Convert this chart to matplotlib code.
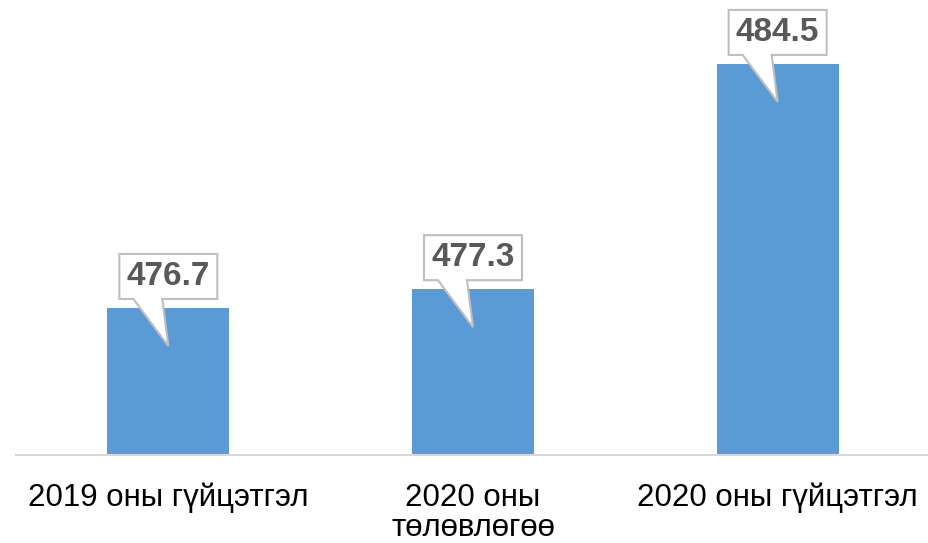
import matplotlib.pyplot as plt
from matplotlib.patches import Polygon

plt.rcParams['font.family'] = ['Liberation Sans', 'DejaVu Sans']

categories = ["2019 оны гүйцэтгэл", "2020 оны\nтөлөвлөгөө", "2020 оны гүйцэтгэл"]
values = [476.7, 477.3, 484.5]
labels = ["476.7", "477.3", "484.5"]

fig = plt.figure(figsize=(9.29, 5.43), dpi=100)
ax = fig.add_axes([16 / 929, 88 / 543, 914 / 929, 438 / 543])

x = range(len(values))
ax.bar(x, values, width=0.4, color="#5B9BD5", zorder=2)
ax.set_ylim(472, 486)
ax.set_xlim(-0.5, 2.5)

for s in ["top", "right", "left"]:
    ax.spines[s].set_visible(False)
ax.spines["bottom"].set_color("#D9D9D9")
ax.spines["bottom"].set_linewidth(1.5)
ax.set_yticks([])
ax.set_xticks(list(x))
ax.set_xticklabels(categories, fontsize=22.5, linespacing=1.0)
ax.tick_params(axis="x", length=0, pad=20)

# callout boxes, shape in pixel offsets from the bar top
for xi, v, lab in zip(x, values, labels):
    base = ax.transData.transform((xi, v))
    bx0, bx1 = -49, 49
    by0, by1 = 9, 54
    shape = [(bx0, by0), (-35, by0), (0, -38), (-6, by0), (bx1, by0),
             (bx1, by1), (bx0, by1)]
    pts = [(base[0] + dx, base[1] + dy) for dx, dy in shape]
    poly = Polygon(pts, closed=True, transform=None, facecolor="white",
                   edgecolor="#BFBFBF", linewidth=1.5, zorder=3)
    fig.patches.append(poly)
    fig.text(base[0] / fig.bbox.width, (base[1] + (by0 + by1) / 2) / fig.bbox.height,
             lab, ha="center", va="center", fontsize=24, fontweight="bold",
             color="#595959", zorder=4)

fig.savefig("out.png", dpi=100)
